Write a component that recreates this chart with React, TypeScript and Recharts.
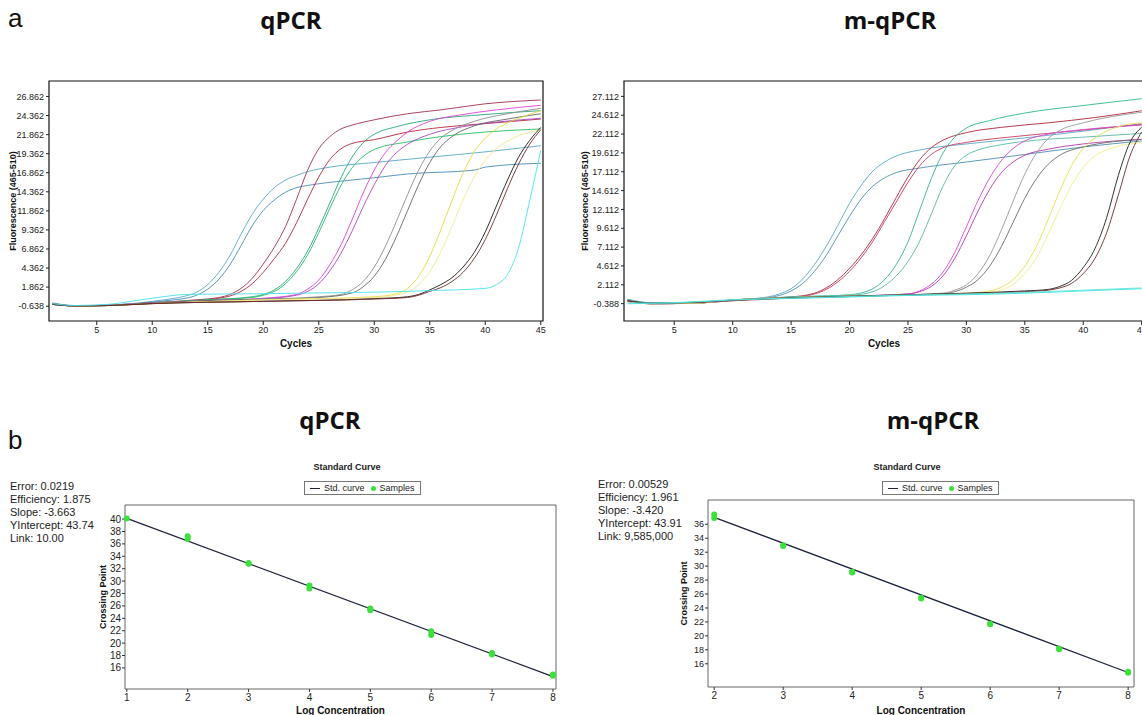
import { ComposedChart, Legend, Line, LineChart, ReferenceArea, Scatter, XAxis, YAxis } from 'recharts'

// ---- amplification curves, qPCR (cycle, fluorescence) ----
const qBlueA = [[1, -0.2], [3, -0.55], [6, -0.5], [10, 0.0], [12, 0.4], [13, 0.7], [14, 1.2], [15, 2.2], [16, 3.8], [17, 6.0], [18, 8.8], [19, 11.4], [20, 13.4], [21, 14.9], [22, 15.9], [23, 16.5], [24, 17.0], [26, 17.6], [30, 18.2], [35, 18.9], [40, 19.6], [45, 20.4]]
const qBlueB = [[1, -0.3], [3, -0.6], [6, -0.55], [10, -0.1], [12, 0.2], [13, 0.4], [14, 0.8], [15, 1.6], [16, 2.9], [17, 4.8], [18, 7.3], [19, 9.9], [20, 11.9], [21, 13.3], [22, 14.3], [23, 14.9], [24, 15.2], [26, 15.6], [30, 16.2], [33, 16.7], [39, 17.2], [40, 17.6], [45, 18.1]]
const qMaroonA = [[1, -0.3], [3, -0.6], [6, -0.55], [10, -0.2], [14, 0.2], [16, 0.5], [17, 0.9], [18, 1.7], [19, 3.0], [20, 4.9], [21, 7.1], [22, 9.8], [23, 13.4], [24, 17.2], [25, 20.0], [26, 21.6], [27, 22.6], [28, 23.1], [30, 23.8], [33, 24.6], [36, 25.1], [40, 25.9], [45, 26.4]]
const qMaroonB = [[1, -0.4], [3, -0.6], [6, -0.55], [10, -0.2], [14, 0.1], [16, 0.4], [17, 0.7], [18, 1.3], [19, 2.3], [20, 3.8], [21, 5.6], [22, 7.6], [23, 10.3], [24, 13.4], [25, 16.3], [26, 18.6], [27, 20.0], [28, 20.7], [30, 21.2], [33, 22.2], [36, 22.8], [40, 23.3], [45, 23.9]]
const qGreenA = [[1, -0.3], [3, -0.6], [6, -0.5], [10, -0.2], [15, 0.2], [19, 0.6], [20, 0.9], [21, 1.5], [22, 2.6], [23, 4.3], [24, 6.6], [25, 9.6], [26, 12.9], [27, 16.2], [28, 18.9], [29, 20.8], [30, 21.9], [32, 22.9], [35, 23.8], [40, 24.5], [45, 25.0]]
const qGreenB = [[1, -0.4], [3, -0.6], [6, -0.5], [10, -0.2], [15, 0.2], [19, 0.5], [20, 0.8], [21, 1.3], [22, 2.3], [23, 3.9], [24, 6.1], [25, 9.0], [26, 12.2], [27, 15.2], [28, 17.5], [29, 19.0], [30, 19.9], [33, 20.9], [36, 21.6], [40, 22.2], [45, 22.6]]
const qMagentaA = [[1, -0.4], [3, -0.6], [6, -0.5], [10, -0.2], [15, 0.1], [20, 0.4], [23, 0.9], [24, 1.6], [25, 2.8], [26, 4.8], [27, 7.4], [28, 10.7], [29, 14.2], [30, 17.2], [31, 19.5], [32, 21.0], [33, 22.2], [35, 23.6], [38, 24.5], [41, 25.1], [45, 25.7]]
const qMagentaB = [[1, -0.3], [3, -0.6], [6, -0.55], [10, -0.25], [15, 0.1], [20, 0.35], [23, 0.8], [24, 1.3], [25, 2.3], [26, 4.0], [27, 6.3], [28, 9.2], [29, 12.4], [30, 15.3], [31, 17.8], [32, 19.5], [33, 20.6], [35, 21.9], [38, 22.9], [41, 23.5], [45, 24.0]]
const qGrayA = [[1, -0.4], [3, -0.6], [6, -0.55], [10, -0.25], [15, 0.1], [20, 0.3], [25, 0.6], [27, 0.9], [28, 1.5], [29, 2.6], [30, 4.5], [31, 7.2], [32, 10.5], [33, 14.0], [34, 17.2], [35, 19.7], [36, 21.4], [37, 22.4], [39, 23.6], [42, 24.6], [45, 25.3]]
const qGrayB = [[1, -0.3], [3, -0.6], [6, -0.55], [10, -0.25], [15, 0.1], [20, 0.25], [25, 0.5], [28, 1.1], [29, 1.9], [30, 3.3], [31, 5.5], [32, 8.5], [33, 11.9], [34, 15.3], [35, 18.2], [36, 20.3], [37, 21.6], [39, 23.0], [42, 23.9], [45, 24.6]]
const qYellowA = [[1, -0.4], [3, -0.6], [6, -0.55], [10, -0.3], [20, 0.2], [30, 0.6], [32, 1.0], [33, 1.7], [34, 3.3], [35, 5.9], [36, 9.4], [37, 13.2], [38, 16.8], [39, 19.6], [40, 21.4], [41, 22.6], [42, 23.4], [43, 24.0], [45, 25.0]]
const qYellowB = [[1, -0.3], [3, -0.6], [6, -0.55], [10, -0.3], [20, 0.2], [30, 0.5], [33, 1.2], [34, 2.2], [35, 3.9], [36, 6.5], [37, 9.8], [38, 13.3], [39, 16.3], [40, 18.5], [41, 20.0], [42, 21.0], [43, 21.7], [45, 22.5]]
const qBlackA = [[1, -0.4], [3, -0.6], [6, -0.55], [10, -0.3], [20, 0.0], [30, 0.35], [33, 0.6], [34, 0.9], [35, 1.5], [36, 2.2], [37, 3.1], [38, 4.5], [39, 6.4], [40, 9.1], [41, 12.5], [42, 15.9], [43, 18.9], [44, 21.1], [45, 22.8]]
const qBlackB = [[1, -0.3], [3, -0.6], [6, -0.55], [10, -0.3], [20, 0.0], [30, 0.3], [33, 0.5], [34, 0.8], [35, 1.3], [36, 1.8], [37, 2.6], [38, 3.8], [39, 5.6], [40, 8.1], [41, 11.3], [42, 14.8], [43, 18.0], [44, 20.6], [45, 22.5]]
const qCyan = [[1, -0.3], [3, -0.55], [6, -0.4], [9, 0.2], [11, 0.6], [13, 0.9], [20, 1.0], [25, 1.1], [30, 1.2], [35, 1.4], [40, 1.7], [41, 2.2], [42, 3.5], [43, 7.0], [44, 13.2], [45, 19.8]]

// ---- amplification curves, m-qPCR ----
const mBlueA = [[1, 0.2], [2, -0.1], [4, -0.35], [7, -0.3], [10, 0.1], [12, 0.3], [13, 0.5], [14, 0.9], [15, 1.6], [16, 2.9], [17, 4.8], [18, 7.2], [19, 10.0], [20, 12.9], [21, 15.3], [22, 17.2], [23, 18.4], [24, 19.2], [26, 20.0], [30, 20.8], [35, 21.6], [40, 22.5], [45, 23.5]]
const mBlueB = [[1, 0.1], [2, -0.2], [4, -0.4], [7, -0.3], [10, 0.0], [12, 0.2], [13, 0.4], [14, 0.7], [15, 1.3], [16, 2.3], [17, 3.9], [18, 6.0], [19, 8.6], [20, 11.2], [21, 13.5], [22, 15.2], [23, 16.3], [24, 17.0], [26, 17.6], [30, 18.4], [35, 19.4], [40, 20.4], [45, 21.2]]
const mRedA = [[1, 0.0], [3, -0.4], [7, -0.3], [10, 0.1], [15, 0.5], [17, 1.0], [18, 1.7], [19, 2.8], [20, 4.3], [21, 6.1], [22, 8.3], [23, 10.9], [24, 13.7], [25, 16.4], [26, 18.7], [27, 20.3], [28, 21.3], [30, 22.3], [33, 23.0], [37, 23.6], [41, 24.3], [45, 25.2]]
const mRedB = [[1, -0.1], [3, -0.4], [7, -0.3], [10, 0.0], [15, 0.4], [17, 0.9], [18, 1.5], [19, 2.5], [20, 3.9], [21, 5.7], [22, 7.9], [23, 10.5], [24, 13.1], [25, 15.7], [26, 17.9], [27, 19.4], [28, 20.3], [30, 21.0], [33, 21.6], [37, 22.2], [41, 22.8], [45, 23.4]]
const mGreenA = [[1, 0.0], [3, -0.35], [7, -0.3], [10, 0.1], [15, 0.5], [20, 0.8], [22, 1.6], [23, 2.8], [24, 4.8], [25, 7.8], [26, 12.0], [27, 16.2], [28, 19.6], [29, 21.7], [30, 22.9], [32, 23.9], [35, 24.9], [40, 25.9], [45, 26.8]]
const mGreenB = [[1, 0.0], [3, -0.35], [7, -0.3], [10, 0.1], [15, 0.5], [20, 0.7], [22, 1.2], [23, 2.0], [24, 3.3], [25, 5.2], [26, 7.9], [27, 11.5], [28, 15.2], [29, 17.9], [30, 19.3], [31, 20.0], [33, 20.7], [36, 21.3], [40, 21.7], [45, 22.2]]
const mMagentaA = [[1, -0.1], [3, -0.4], [7, -0.3], [10, 0.1], [20, 0.6], [25, 0.9], [26, 1.3], [27, 2.2], [28, 3.8], [29, 6.4], [30, 9.8], [31, 13.3], [32, 16.3], [33, 18.6], [34, 20.2], [35, 21.2], [37, 22.1], [40, 22.7], [45, 23.3]]
const mMagentaB = [[1, 0.0], [3, -0.35], [7, -0.3], [10, 0.1], [20, 0.6], [25, 0.9], [26, 1.2], [27, 1.9], [28, 3.3], [29, 5.6], [30, 8.6], [31, 11.9], [32, 14.8], [33, 17.0], [34, 18.4], [35, 19.3], [37, 20.1], [40, 20.8], [45, 21.4]]
const mGrayA = [[1, 0.0], [3, -0.35], [7, -0.3], [10, 0.1], [20, 0.6], [28, 1.0], [29, 1.4], [30, 2.1], [31, 3.6], [32, 6.0], [33, 9.4], [34, 13.2], [35, 16.8], [36, 19.6], [37, 21.5], [38, 22.6], [40, 23.6], [45, 25.0]]
const mGrayB = [[1, -0.1], [3, -0.4], [7, -0.3], [10, 0.1], [20, 0.6], [28, 0.9], [29, 1.2], [30, 1.8], [31, 2.8], [32, 4.6], [33, 7.2], [34, 10.4], [35, 13.6], [36, 16.2], [37, 18.1], [38, 19.3], [40, 20.4], [45, 21.4]]
const mYellowA = [[1, -0.1], [3, -0.4], [7, -0.3], [10, 0.1], [20, 0.6], [30, 1.0], [32, 1.3], [33, 1.8], [34, 2.8], [35, 4.6], [36, 7.2], [37, 10.8], [38, 14.6], [39, 17.9], [40, 20.2], [41, 21.6], [42, 22.5], [43, 23.1], [45, 23.6]]
const mYellowB = [[1, 0.0], [3, -0.35], [7, -0.3], [10, 0.1], [20, 0.6], [30, 0.9], [33, 1.4], [34, 2.2], [35, 3.6], [36, 5.7], [37, 8.8], [38, 12.2], [39, 15.3], [40, 17.7], [41, 19.2], [42, 20.0], [43, 20.5], [45, 21.0]]
const mBlackA = [[1, 0.0], [3, -0.3], [7, -0.2], [10, 0.1], [20, 0.6], [30, 1.0], [35, 1.3], [37, 1.5], [38, 1.9], [39, 2.7], [40, 4.4], [41, 6.9], [42, 11.0], [43, 16.6], [44, 21.0], [45, 23.0]]
const mBlackB = [[1, 0.0], [3, -0.35], [7, -0.25], [10, 0.05], [20, 0.55], [30, 0.95], [35, 1.2], [37, 1.4], [38, 1.7], [39, 2.3], [40, 3.6], [41, 5.6], [42, 9.0], [43, 14.0], [44, 19.2], [45, 22.4]]
const mCyanA = [[1, -0.4], [3, -0.35], [5, -0.3], [10, 0.1], [15, 0.3], [20, 0.5], [25, 0.7], [30, 0.8], [35, 1.0], [40, 1.3], [45, 1.6]]
const mCyanB = [[1, -0.3], [3, -0.3], [5, -0.25], [10, 0.15], [15, 0.35], [20, 0.55], [25, 0.75], [30, 0.9], [35, 1.1], [40, 1.4], [45, 1.7]]

const qpcrCurves = [qBlueA, qBlueB, qMaroonA, qMaroonB, qGreenA, qGreenB, qMagentaA, qMagentaB, qGrayA, qGrayB, qYellowA, qYellowB, qBlackA, qBlackB, qCyan]
const qpcrColors = ['#5aa9c8', '#4a8db5', '#a2304c', '#b3283a', '#2aa87c', '#22c060', '#e040d8', '#a848c8', '#909090', '#666666', '#e6da3c', '#f2ea8c', '#1a1a1a', '#7a2a2a', '#48e2ec']
const mqpcrCurves = [mBlueA, mBlueB, mRedA, mRedB, mGreenA, mGreenB, mMagentaA, mMagentaB, mGrayA, mGrayB, mYellowA, mYellowB, mBlackA, mBlackB, mCyanA, mCyanB]
const mqpcrColors = ['#5aa8c8', '#4e90b2', '#b02838', '#c83c5c', '#30b890', '#58b8a8', '#d848d8', '#b838b0', '#999999', '#6c6c6c', '#e8e050', '#f2ee8a', '#1e1e1e', '#6a2c2c', '#34e0ec', '#60e8d8']

const cycleTicks = [5, 10, 15, 20, 25, 30, 35, 40, 45]
const qpcrYTicks = [-0.638, 1.862, 4.362, 6.862, 9.362, 11.862, 14.362, 16.862, 19.362, 21.862, 24.362, 26.862]
const mqpcrYTicks = [-0.388, 2.112, 4.612, 7.112, 9.612, 12.112, 14.612, 17.112, 19.612, 22.112, 24.612, 27.112]

// ---- standard curves ----
const qLogConc = [1, 2, 2, 3, 3, 4, 4, 5, 5, 6, 6, 7, 7, 8, 8]
const qCrossing = [40.1, 37.25, 36.8, 32.9, 32.8, 29.3, 28.8, 25.6, 25.3, 21.9, 21.3, 18.4, 18.15, 14.95, 14.75]
const qFitLog = [1, 8]
const qFitCp = [40.1, 14.6]
const mLogConc = [2, 2, 3, 3, 4, 4, 5, 5, 6, 6, 7, 7, 8, 8]
const mCrossing = [37.4, 36.9, 33.0, 32.9, 29.2, 29.1, 25.45, 25.35, 21.75, 21.65, 18.2, 18.1, 14.85, 14.7]
const mFitLog = [2, 8]
const mFitCp = [37.0, 14.75]
const qStdXTicks = [1, 2, 3, 4, 5, 6, 7, 8]
const mStdXTicks = [2, 3, 4, 5, 6, 7, 8]
const qStdYTicks = [16, 18, 20, 22, 24, 26, 28, 30, 32, 34, 36, 38, 40]
const mStdYTicks = [16, 18, 20, 22, 24, 26, 28, 30, 32, 34, 36]

const qStats = ['Error: 0.0219', 'Efficiency: 1.875', 'Slope: -3.663', 'YIntercept: 43.74', 'Link: 10.00']
const mStats = ['Error: 0.00529', 'Efficiency: 1.961', 'Slope: -3.420', 'YIntercept: 43.91', 'Link: 9,585,000']

const FONT = '"Liberation Sans", Arial, sans-serif'
const toPts = (pairs: number[][]) => pairs.map(([x, y]) => ({ x, y }))
const zip = (xs: number[], ys: number[]) => xs.map((x, i) => ({ x, y: ys[i] }))

interface AmpProps {
  curves: number[][][]
  colors: string[]
  yTicks: number[]
  yDomain: [number, number]
  width: number
  yWidth: number
  right: number
  labelOffset: number
}

const AmpChart = ({ curves, colors, yTicks, yDomain, width, yWidth, right, labelOffset }: AmpProps) => {
  const xDomain: [number, number] = [0.7, 45.2]
  return (
    <LineChart width={width} height={279} margin={{ top: 11, right, bottom: 0, left: 0 }} style={{ fontFamily: FONT }}>
      <XAxis
        type="number"
        dataKey="x"
        domain={xDomain}
        ticks={cycleTicks}
        interval={0}
        height={28}
        tickSize={4}
        axisLine={false}
        tickLine={{ stroke: '#222' }}
        tick={{ fontSize: 9, fill: '#222' }}
        label={{ value: 'Cycles', position: 'insideBottom', offset: 2, style: { fontSize: 10, fontWeight: 'bold', fill: '#111' } }}
      />
      <YAxis
        type="number"
        domain={yDomain}
        ticks={yTicks}
        interval={0}
        width={yWidth}
        tickSize={3}
        axisLine={false}
        tickLine={{ stroke: '#222' }}
        tick={{ fontSize: 9, fill: '#222' }}
        tickFormatter={(v: number) => v.toFixed(3)}
        label={{ value: 'Fluorescence (465-510)', angle: -90, position: 'insideLeft', offset: labelOffset, style: { textAnchor: 'middle', fontSize: 9, fontWeight: 'bold', fill: '#111' } }}
      />
      <ReferenceArea x1={xDomain[0]} x2={xDomain[1]} y1={yDomain[0]} y2={yDomain[1]} fill="none" stroke="#111" strokeWidth={1.2} ifOverflow="visible" />
      {curves.map((c, i) => (
        <Line key={i} data={toPts(c)} dataKey="y" type="monotone" stroke={colors[i]} strokeWidth={1} strokeOpacity={0.9} dot={false} isAnimationActive={false} />
      ))}
    </LineChart>
  )
}

const StdLegend = (props: any) => {
  // line entry first, then the samples dot, as in the original software
  const items = [...(props.payload ?? [])].sort((a: any, b: any) => (a.type === 'circle' ? 1 : 0) - (b.type === 'circle' ? 1 : 0))
  return (
    <div style={{ display: 'flex', alignItems: 'center', gap: 6, border: '1px solid #777', padding: '1px 5px', fontSize: 9, fontFamily: FONT, color: '#222', background: '#fff', whiteSpace: 'nowrap' }}>
      {items.map((it: any) => (
        <span key={it.value} style={{ display: 'flex', alignItems: 'center', gap: 4 }}>
          {it.type === 'circle' ? (
            <span style={{ width: 5, height: 5, borderRadius: 3, background: it.color, display: 'inline-block' }} />
          ) : (
            <span style={{ width: 10, height: 1, background: it.color, display: 'inline-block' }} />
          )}
          {it.value}
        </span>
      ))}
    </div>
  )
}

interface StdProps {
  logs: number[]
  cps: number[]
  fitX: number[]
  fitY: number[]
  xTicks: number[]
  yTicks: number[]
  xDomain: [number, number]
  yDomain: [number, number]
  width: number
  yWidth: number
  top: number
  right: number
  xHeight: number
  labelOffset: number
  legendLeft: number
  tickFont: number
}

const StdChart = ({ logs, cps, fitX, fitY, xTicks, yTicks, xDomain, yDomain, width, yWidth, top, right, xHeight, labelOffset, legendLeft, tickFont }: StdProps) => (
  <ComposedChart width={width} height={275} margin={{ top, right, bottom: 0, left: 0 }} style={{ fontFamily: FONT }}>
    <XAxis
      type="number"
      dataKey="x"
      domain={xDomain}
      ticks={xTicks}
      interval={0}
      height={xHeight}
      tickSize={3}
      axisLine={false}
      tickLine={{ stroke: '#333' }}
      tick={{ fontSize: 10, fill: '#222' }}
      label={{ value: 'Log Concentration', position: 'insideBottom', offset: 1, style: { fontSize: 10, fontWeight: 'bold', fill: '#111' } }}
    />
    <YAxis
      type="number"
      dataKey="y"
      domain={yDomain}
      ticks={yTicks}
      interval={0}
      width={yWidth}
      tickSize={3}
      tickMargin={1}
      axisLine={false}
      tickLine={{ stroke: '#333' }}
      tick={{ fontSize: tickFont, fill: '#222' }}
      label={{ value: 'Crossing Point', angle: -90, position: 'insideLeft', offset: labelOffset, style: { textAnchor: 'middle', fontSize: 9, fontWeight: 'bold', fill: '#111' } }}
    />
    <ReferenceArea x1={xDomain[0]} x2={xDomain[1]} y1={yDomain[0]} y2={yDomain[1]} fill="none" stroke="#666" strokeWidth={1} ifOverflow="visible" />
    <Legend content={StdLegend} verticalAlign="middle" wrapperStyle={{ left: legendLeft, top: 41, width: 'auto', height: 'auto' }} />
    <Line data={zip(fitX, fitY)} dataKey="y" name="Std. curve" type="linear" stroke="#1e2440" strokeWidth={1.3} dot={false} legendType="plainline" isAnimationActive={false} />
    <Scatter
      data={zip(logs, cps)}
      name="Samples"
      fill="#3be03b"
      legendType="circle"
      isAnimationActive={false}
      shape={(p: any) => <circle cx={p.cx} cy={p.cy} r={3} fill="#3be03b" />}
    />
  </ComposedChart>
)

const abs = (left: number, top: number, extra: React.CSSProperties = {}): React.CSSProperties => ({ position: 'absolute', left, top, ...extra })
const titleStyle: React.CSSProperties = { fontFamily: '"Open Sans", sans-serif', fontWeight: 700, fontSize: 24, lineHeight: 1, transform: 'translateX(-50%)', color: '#111', whiteSpace: 'nowrap' }
const panelStyle: React.CSSProperties = { fontFamily: FONT, fontSize: 26, lineHeight: 1, color: '#111' }
const stdTitle: React.CSSProperties = { fontFamily: FONT, fontWeight: 700, fontSize: 9, lineHeight: 1, transform: 'translateX(-50%)', color: '#222', whiteSpace: 'nowrap' }
const statStyle: React.CSSProperties = { fontFamily: FONT, fontSize: 11, lineHeight: '13px', color: '#222' }

export default function App() {
  return (
    <div style={{ position: 'fixed', left: 0, top: 0, width: 1142, height: 715, overflow: 'hidden', background: '#fff' }}>
      <div style={abs(8, 5, panelStyle)}>a</div>
      <div style={abs(8, 427, panelStyle)}>b</div>
      <div style={abs(291, 8, titleStyle)}>qPCR</div>
      <div style={abs(890, 8, titleStyle)}>m-qPCR</div>
      <div style={abs(330, 408, titleStyle)}>qPCR</div>
      <div style={abs(933, 408, titleStyle)}>m-qPCR</div>

      <div style={abs(0, 70)}>
        <AmpChart curves={qpcrCurves} colors={qpcrColors} yTicks={qpcrYTicks} yDomain={[-2.58, 28.89]} width={560} yWidth={49} right={17} labelOffset={13} />
      </div>
      <div style={abs(570, 70)}>
        <AmpChart curves={mqpcrCurves} colors={mqpcrColors} yTicks={mqpcrYTicks} yDomain={[-2.69, 29.15]} width={580} yWidth={54} right={6} labelOffset={15} />
      </div>

      <div style={abs(347, 463, stdTitle)}>Standard Curve</div>
      <div style={abs(907, 463, stdTitle)}>Standard Curve</div>
      <div style={abs(10, 480, statStyle)}>
        {qStats.map((s) => <div key={s}>{s}</div>)}
      </div>
      <div style={abs(598, 478, statStyle)}>
        {mStats.map((s) => <div key={s}>{s}</div>)}
      </div>

      <div style={abs(0, 440)}>
        <StdChart logs={qLogConc} cps={qCrossing} fitX={qFitLog} fitY={qFitCp} xTicks={qStdXTicks} yTicks={qStdYTicks} xDomain={[0.97, 8.05]} yDomain={[12.6, 42.27]} width={570} yWidth={125} top={65} right={14} xHeight={26} labelOffset={103} legendLeft={304} tickFont={10} />
      </div>
      <div style={abs(570, 440)}>
        <StdChart logs={mLogConc} cps={mCrossing} fitX={mFitLog} fitY={mFitCp} xTicks={mStdXTicks} yTicks={mStdYTicks} xDomain={[1.91, 8.085]} yDomain={[12.67, 39.48]} width={572} yWidth={138} top={60} right={8} xHeight={28} labelOffset={114} legendLeft={312} tickFont={9} />
      </div>
    </div>
  )
}
